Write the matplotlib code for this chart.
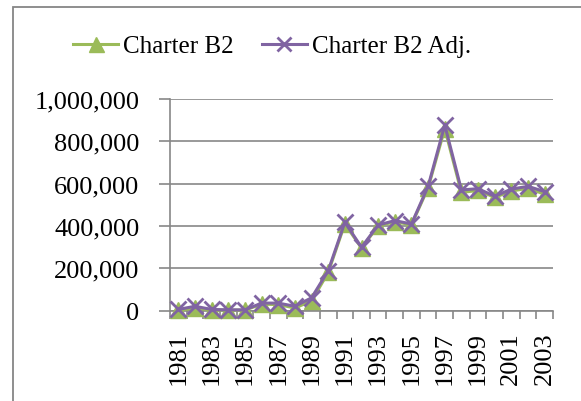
"""Charter B2 vs Charter B2 Adj., 1981-2003."""
import matplotlib
matplotlib.use("Agg")
import matplotlib.pyplot as plt
from matplotlib.patches import Rectangle
from matplotlib.ticker import FuncFormatter, FixedLocator

years = list(range(1981, 2004))
charter_b2 = [2000, 10000, 3000, 2000, 2000, 30000, 28000, 12000, 45000,
              180000, 410000, 295000, 400000, 420000, 405000, 580000,
              860000, 558000, 568000, 535000, 565000, 578000, 550000]
charter_b2_adj = [5000, 20000, 5000, 3000, 3000, 35000, 35000, 20000, 60000,
                  188000, 417000, 299000, 404000, 425000, 409000, 587000,
                  877000, 570000, 576000, 540000, 574000, 587000, 562000]
y_ticks = [0, 200000, 400000, 600000, 800000, 1000000]

GREEN = "#9BBB59"
PURPLE = "#8064A2"
GRID = "#878787"

plt.rcParams["font.family"] = ["Liberation Serif", "DejaVu Serif"]
FS = 19

fig = plt.figure(figsize=(5.81, 4.02), dpi=100)
ax = fig.add_axes([170 / 581, 1 - 311.5 / 402, 383 / 581, 211.5 / 402])

x = list(range(len(years)))
ax.plot(x, charter_b2, color=GREEN, lw=2.2, marker="^", ms=12,
        mfc=GREEN, mec=GREEN, label="Charter B2", zorder=3, clip_on=False)
ax.plot(x, charter_b2_adj, color=PURPLE, lw=2.2, marker="x", ms=11,
        mew=2, mec=PURPLE, label="Charter B2 Adj.", zorder=4, clip_on=False)

ax.set_xlim(-0.5, len(years) - 0.5)
ax.set_ylim(0, 1000000)
ax.set_yticks(y_ticks)
ax.yaxis.set_major_formatter(FuncFormatter(lambda v, p: f"{int(v):,}"))
ax.grid(axis="y", color=GRID, lw=1.2)
ax.set_axisbelow(True)

ax.set_xticks(x[::2])
ax.set_xticklabels([str(y) for y in years[::2]], rotation=90)
ax.xaxis.set_minor_locator(FixedLocator([i - 0.5 for i in range(len(years) + 1)]))
ax.tick_params(axis="x", which="major", length=0, pad=15, labelsize=FS)
ax.tick_params(axis="x", which="minor", length=6, width=1.2, color=GRID)
ax.tick_params(axis="y", length=8, width=1.2, color=GRID, pad=14, labelsize=FS)

for s in ("top", "right"):
    ax.spines[s].set_visible(False)
for s in ("left", "bottom"):
    ax.spines[s].set_color(GRID)
    ax.spines[s].set_linewidth(1.2)

fig.legend(loc="center", bbox_to_anchor=(272 / 581, 1 - 47 / 402), ncol=2,
           frameon=False, fontsize=18, handlelength=1.8, handletextpad=0.2,
           columnspacing=1.1, markerscale=0.9)

fig.add_artist(Rectangle((13 / 581, -0.1), 1.2, 1.1 - 8 / 402,
                         transform=fig.transFigure, fill=False,
                         edgecolor="#868686", lw=1.3))

fig.savefig("out.png", dpi=100)
